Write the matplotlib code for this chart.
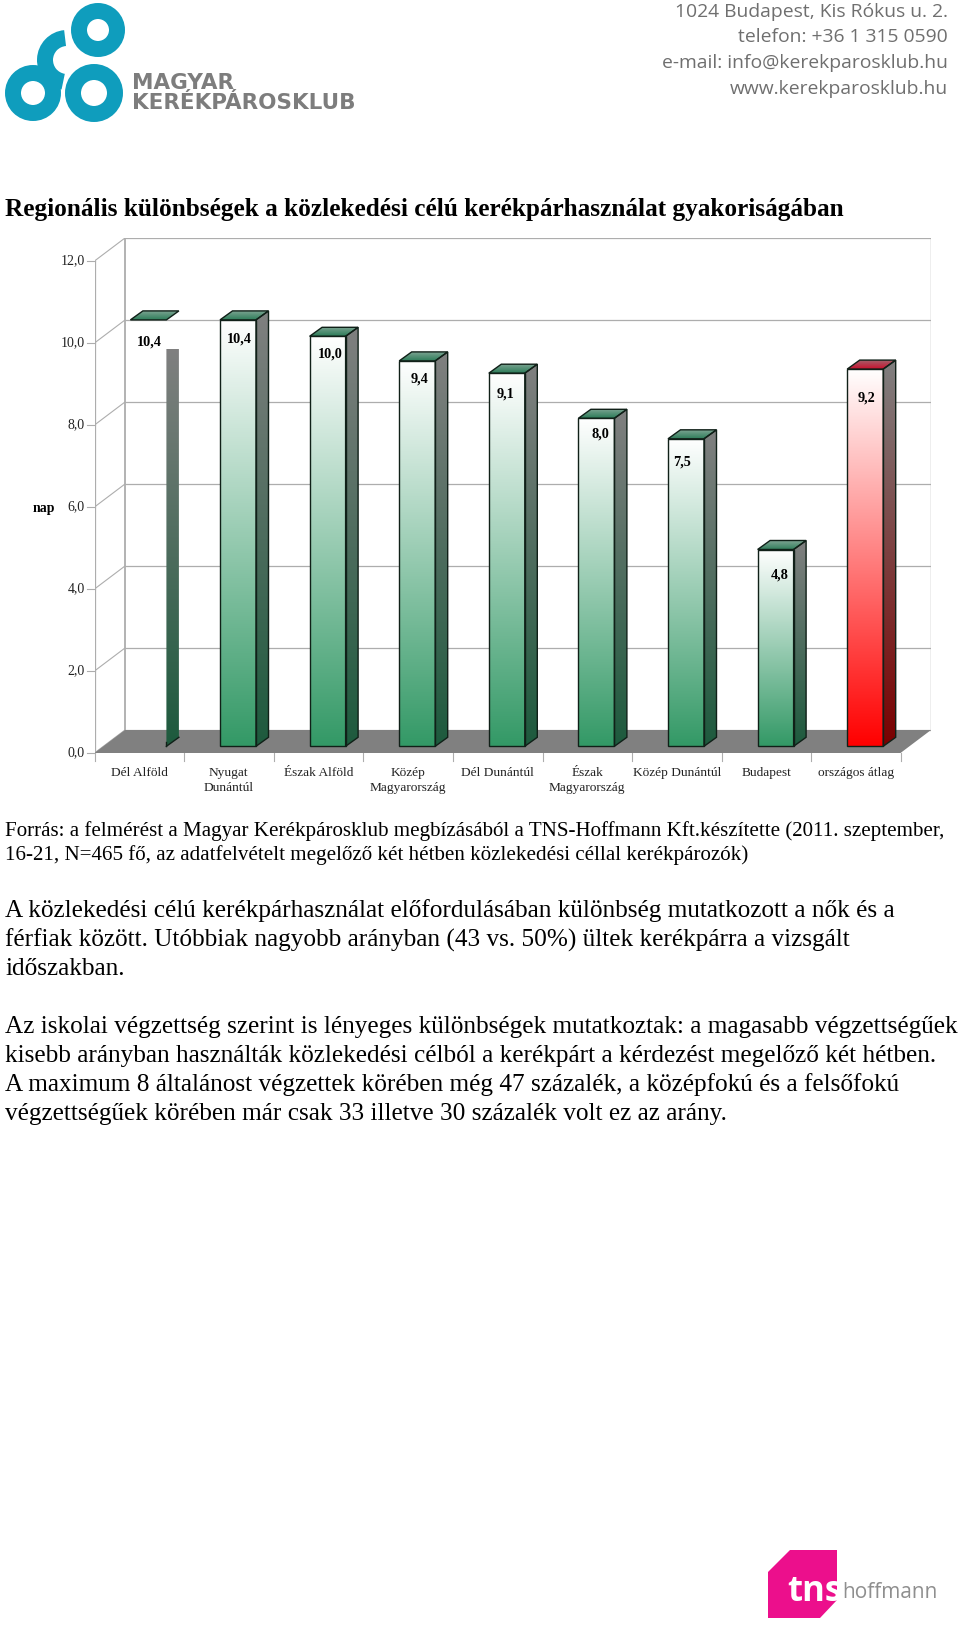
# plot.py
# regional differences in cycling frequency, 3d look bar chart on a letterhead page

import matplotlib
matplotlib.use("Agg")
import matplotlib.pyplot as plt
import numpy as np
from matplotlib.colors import LinearSegmentedColormap
from matplotlib.patches import Circle, Polygon, Arc

# data
regions = ["Dél Alföld", "Nyugat\nDunántúl", "Észak Alföld", "Közép\nMagyarország", "Dél Dunántúl",
           "Észak\nMagyarország", "Közép Dunántúl", "Budapest", "országos átlag"]
values = [10.4, 10.4, 10.0, 9.4, 9.1, 8.0, 7.5, 4.8, 9.2]
value_labels = ["10,4", "10,4", "10,0", "9,4", "9,1", "8,0", "7,5", "4,8", "9,2"]
y_ticks = [0, 2, 4, 6, 8, 10, 12]
y_tick_labels = ["0,0", "2,0", "4,0", "6,0", "8,0", "10,0", "12,0"]

# label placement under the bar top, px
label_dx = [1, 1, 3, 2, -1, 4, -4, 4, 1]
label_dy = [22, 19, 18, 18, 21, 16, 23, 26, 29]

title = "Regionális különbségek a közlekedési célú kerékpárhasználat gyakoriságában"
source_lines = ["Forrás: a felmérést a Magyar Kerékpárosklub megbízásából a TNS-Hoffmann Kft.készítette (2011. szeptember,",
                "16-21, N=465 fő, az adatfelvételt megelőző két hétben közlekedési céllal kerékpározók)"]
para_lines = [(911, "A közlekedési célú kerékpárhasználat előfordulásában különbség mutatkozott a nők és a"),
              (940, "férfiak között. Utóbbiak nagyobb arányban (43 vs. 50%) ültek kerékpárra a vizsgált"),
              (969, "időszakban."),
              (1027, "Az iskolai végzettség szerint is lényeges különbségek mutatkoztak: a magasabb végzettségűek"),
              (1056, "kisebb arányban használták közlekedési célból a kerékpárt a kérdezést megelőző két hétben."),
              (1085, "A maximum 8 általánost végzettek körében még 47 százalék, a középfokú és a felsőfokú"),
              (1114, "végzettségűek körében már csak 33 illetve 30 százalék volt ez az arány.")]
address = ["1024 Budapest, Kis Rókus u. 2.", "telefon: +36 1 315 0590",
           "e-mail: info@kerekparosklub.hu", "www.kerekparosklub.hu"]

W, H = 960, 1629
SERIF = "Liberation Serif"
GRID = "#adadad"
TEAL = "#0f9dbd"

fig = plt.figure(figsize=(W / 100, H / 100), dpi=100, facecolor="white")

# page layer in pixel coords
page = fig.add_axes([0, 0, 1, 1])
page.set_xlim(0, W)
page.set_ylim(H, 0)
page.axis("off")

# club logo
for cx, cy, r in [(98, 30, 27), (33, 93, 28), (94, 93, 29)]:
    page.add_patch(Circle((cx, cy), r - 8, fc="none", ec=TEAL, lw=11.5))
page.add_patch(Arc((67, 60), 44, 44, theta1=100, theta2=265, ec=TEAL, lw=11.5))
page.text(132, 83, "MAGYAR", family="DejaVu Sans", weight="bold", fontsize=15.5, color="#7d7d7d", va="center")
page.text(132, 103, "KERÉKPÁROSKLUB", family="DejaVu Sans", weight="bold", fontsize=15.5, color="#7d7d7d", va="center")
for yy, line in zip([12, 37, 63, 89], address):
    page.text(948, yy, line, family="Open Sans", weight="medium", fontsize=13.9, color="#6f6f6f", ha="right", va="center")

# text blocks
page.text(5, 209, title, family=SERIF, weight="bold", fontsize=18.15, va="center")
page.text(5, 831, source_lines[0], family=SERIF, fontsize=15.1, va="center")
page.text(5, 855, source_lines[1], family=SERIF, fontsize=15.1, va="center")
for yy, line in para_lines:
    page.text(5, yy, line, family=SERIF, fontsize=18.2, va="center")

# tns logo
page.add_patch(Polygon([(790, 1550), (837, 1550), (837, 1600), (820, 1618), (768, 1618), (768, 1572)],
                       fc="#ec0f8c", ec="none"))
page.text(787, 1592, "tns", family="Open Sans", weight="bold", fontsize=25, color="white", va="center")
page.text(842, 1593, "hoffmann", family="Open Sans", fontsize=15, color="#8f8f8f", va="center")

# chart axes, x in category widths, y in days
X0, X1, Y0, Y1 = 94.5, 931, 753, 238
CAT = 89.6
UNIT = 41.0
ax = fig.add_axes([X0 / W, 1 - Y0 / H, (X1 - X0) / W, (Y0 - Y1) / H])
xlim = (0, (X1 - X0) / CAT)
ylim = (0, (Y0 - Y1) / UNIT)
ax.axis("off")

# depth of the box
DX = 30.5 / CAT
DY = 23 / UNIT
# bar geometry
BW = 36 / CAT
BAR_DX = 12.5 / CAT
BAR_DY = 9 / UNIT
BASE = 6.7 / UNIT
BAR_LEFT = 35.9 / CAT

# floor and walls
ax.add_patch(Polygon([(0, 0), (DX, DY), (xlim[1], DY), (xlim[1] - DX, 0)], fc="#808080", ec="none", zorder=2))
for t in y_ticks:
    ax.plot([DX, xlim[1]], [t + DY, t + DY], color=GRID, lw=0.9, zorder=1, solid_capstyle="butt")
    ax.plot([0, DX], [t, t + DY], color=GRID, lw=0.8, zorder=1)
    ax.plot([-7.5 / CAT, 0], [t, t], color=GRID, lw=0.8, zorder=1, clip_on=False)
ax.plot([0, 0], [0, 12], color=GRID, lw=0.9, zorder=1)
ax.plot([DX, DX], [DY, 12 + DY], color=GRID, lw=1.3, zorder=1)
ax.plot([DX, xlim[1]], [12 + DY, 12 + DY], color=GRID, lw=1.3, zorder=1)
ax.plot([xlim[1], xlim[1]], [DY, 12 + DY], color=GRID, lw=1.0, zorder=1)
for i in range(len(regions) + 1):
    ax.plot([i, i], [0, -8 / UNIT], color=GRID, lw=0.8, clip_on=False, zorder=1)


def grad(ax, box, colors, clip=None, zorder=3):
    # vertical gradient in box (x0, x1, y0, y1), first colour at the top
    cmap = LinearSegmentedColormap.from_list("g", colors)
    im = ax.imshow(np.linspace(0, 1, 256).reshape(-1, 1), cmap=cmap, extent=box, aspect="auto",
                   origin="upper", interpolation="bilinear", zorder=zorder)
    if clip is not None:
        patch = Polygon(clip, transform=ax.transData, fc="none", ec="none")
        ax.add_patch(patch)
        im.set_clip_path(patch)
    return im


# bars
for i, v in enumerate(values):
    x = i + BAR_LEFT
    xr = x + BW
    top = v + BASE
    if i == len(values) - 1:
        front_c, side_c, top_c = ["white", "#ff0000"], ["#808080", "#7a0000"], ["#a5606a", "#c8102e"]
    else:
        front_c, side_c, top_c = ["white", "#339966"], ["#808080", "#1d5a3d"], ["#7aa391", "#2c7c58"]
    # first bar is cut short and has no front
    if i == 0:
        side_top = (753 - 349) / UNIT
        side_poly = [(xr, BASE), (xr + BAR_DX, BASE + BAR_DY), (xr + BAR_DX, side_top), (xr, side_top)]
    else:
        side_top = top + BAR_DY
        side_poly = [(xr, BASE), (xr + BAR_DX, BASE + BAR_DY), (xr + BAR_DX, top + BAR_DY), (xr, top)]
    grad(ax, (xr, xr + BAR_DX, BASE, side_top), side_c, clip=side_poly)
    top_poly = [(x, top), (xr, top), (xr + BAR_DX, top + BAR_DY), (x + BAR_DX, top + BAR_DY)]
    grad(ax, (x, xr + BAR_DX, top, top + BAR_DY), top_c, clip=top_poly)
    ax.add_patch(Polygon(top_poly, fc="none", ec="#102018", lw=1, zorder=5))
    if i == 0:
        ax.plot([xr, xr + BAR_DX], [BASE, BASE + BAR_DY], color="#102018", lw=1, zorder=5)
        ax.plot([xr, xr], [BASE, BASE + 0.1], color="#102018", lw=1, zorder=5)
    else:
        grad(ax, (x, xr, BASE, top), front_c, clip=[(x, BASE), (xr, BASE), (xr, top), (x, top)])
        ax.add_patch(Polygon(side_poly, fc="none", ec="#102018", lw=1, zorder=5))
        ax.add_patch(Polygon([(x, BASE), (xr, BASE), (xr, top), (x, top)], fc="none", ec="#102018", lw=1, zorder=5))
    ax.text(x + BW / 2 + label_dx[i] / CAT, top - label_dy[i] / UNIT, value_labels[i], family=SERIF,
            weight="bold", fontsize=10.3, ha="center", va="center", zorder=6)

# axis text
for t, lab in zip(y_ticks, y_tick_labels):
    ax.text(-10 / CAT, t, lab, family=SERIF, fontsize=10, color="#222222", ha="right", va="center", clip_on=False)
ax.text(-50.5 / CAT, 6 - 1 / UNIT, "nap", family=SERIF, weight="bold", fontsize=10, ha="center", va="center")
for i, name in enumerate(regions):
    ax.text(i + 0.5, -14 / UNIT, name, family=SERIF, fontsize=9.6, color="#222222", ha="center", va="top",
            linespacing=1.3, clip_on=False)

ax.set_xlim(*xlim)
ax.set_ylim(*ylim)

fig.savefig("out.png", dpi=100)
